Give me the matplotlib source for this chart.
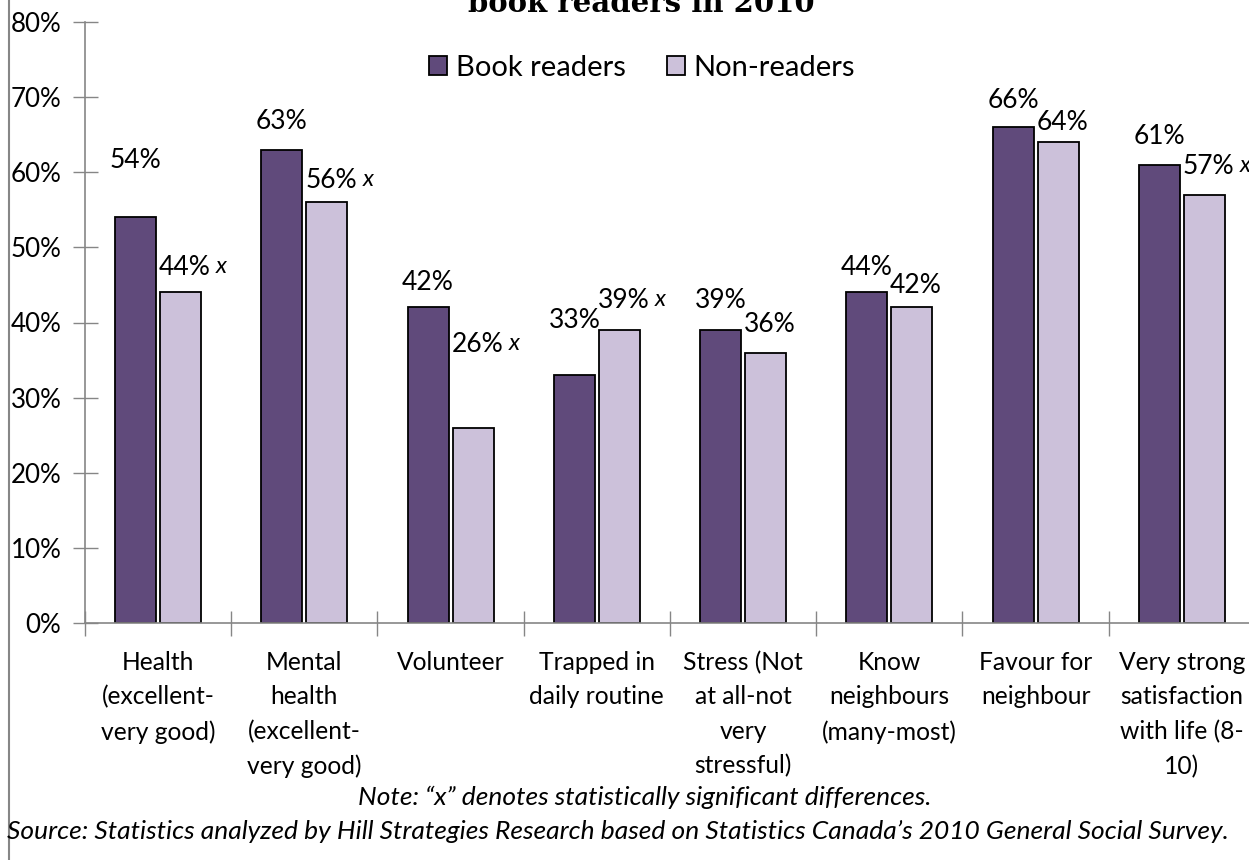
import matplotlib
matplotlib.use("Agg")
from matplotlib import pyplot as plt
from matplotlib.lines import Line2D
import numpy as np

categories = [
    "Health\n(excellent-\nvery good)",
    "Mental\nhealth\n(excellent-\nvery good)",
    "Volunteer",
    "Trapped in\ndaily routine",
    "Stress (Not\nat all-not\nvery\nstressful)",
    "Know\nneighbours\n(many-most)",
    "Favour for\nneighbour",
    "Very strong\nsatisfaction\nwith life (8-\n10)",
]
book_readers = [54, 63, 42, 33, 39, 44, 66, 61]
non_readers = [44, 56, 26, 39, 36, 42, 64, 57]
significant = [True, True, True, True, False, False, False, True]
y_ticks = [0, 10, 20, 30, 40, 50, 60, 70, 80]

# label gaps above bar tops (pixels), picked to match the original layout
book_gap = [57, 28, 25, 55, 30, 25, 27, 28]
non_gap = [25, 22, 83, 30, 28, 22, 20, 28]

dark = "#604A7B"
light = "#CCC1DA"
grey = "#868686"

plt.rcParams["font.family"] = ["Lato", "DejaVu Sans"]
fs = 18.7
fs_cat = 17.7
fs_val = 19

fig = plt.figure(figsize=(12.49, 8.6), dpi=100)
ax = fig.add_axes([85 / 1249, 237 / 860, 1170 / 1249, 601 / 860])

x = np.arange(len(categories))
w = 0.28
off = 0.154
ax.bar(x - off, book_readers, w, color=dark, edgecolor="black", linewidth=1.3, label="Book readers")
ax.bar(x + off, non_readers, w, color=light, edgecolor="black", linewidth=1.3, label="Non-readers")

for i in range(len(categories)):
    ax.annotate(f"{book_readers[i]}%", (x[i] - off, book_readers[i]), xytext=(0, book_gap[i]),
                textcoords="offset pixels", ha="center", va="center", fontsize=fs_val)
    ax.annotate(f"{non_readers[i]}%", (x[i] + off, non_readers[i]), xytext=(4, non_gap[i]),
                textcoords="offset pixels", ha="center", va="center", fontsize=fs_val)
    if significant[i]:
        ax.annotate("x", (x[i] + off, non_readers[i]), xytext=(41, non_gap[i] + 1),
                    textcoords="offset pixels", ha="center", va="center", fontsize=fs_val - 2,
                    style="italic")

ax.set_xlim(-0.5, len(categories) - 0.5)
ax.set_ylim(0, 80)
ax.set_yticks(y_ticks)
ax.set_yticklabels([f"{t}%" for t in y_ticks], fontsize=fs)
ax.set_xticks(x)
ax.set_xticklabels(categories, fontsize=fs_cat, linespacing=1.6, va="top")
ax.set_xticks(np.arange(-0.5, len(categories)), minor=True)
ax.tick_params(axis="x", which="major", length=0, pad=20)
ax.tick_params(axis="x", which="minor", direction="inout", length=18, color=grey, width=1)
ax.tick_params(axis="y", direction="inout", length=18, color=grey, width=1, pad=8)

for s in ["top", "right"]:
    ax.spines[s].set_visible(False)
for s in ["left", "bottom"]:
    ax.spines[s].set_color(grey)
    ax.spines[s].set_linewidth(1.2)

ax.legend(loc="center", bbox_to_anchor=(642 / 1249, 1 - 68 / 860), bbox_transform=fig.transFigure,
          ncol=2, frameon=False, fontsize=21, handlelength=0.62, handleheight=0.62,
          handletextpad=0.3, columnspacing=1.4)

fig.text(641 / 1249, 1 - 12 / 860, "book readers in 2010", ha="center", va="baseline",
         fontsize=21, fontweight="bold", family="DejaVu Serif")

fig.text(645 / 1249, 1 - 797 / 860, "Note: \u201cx\u201d denotes statistically significant differences.",
         ha="center", va="center", fontsize=fs_val, style="italic")
fig.text(618 / 1249, 1 - 831 / 860,
         "Source: Statistics analyzed by Hill Strategies Research based on Statistics Canada\u2019s 2010 General Social Survey.",
         ha="center", va="center", fontsize=fs_val, style="italic")

fig.add_artist(Line2D([8.5 / 1249, 8.5 / 1249], [0, 1], color=grey, linewidth=1.5))

fig.savefig("out.png", dpi=100)
